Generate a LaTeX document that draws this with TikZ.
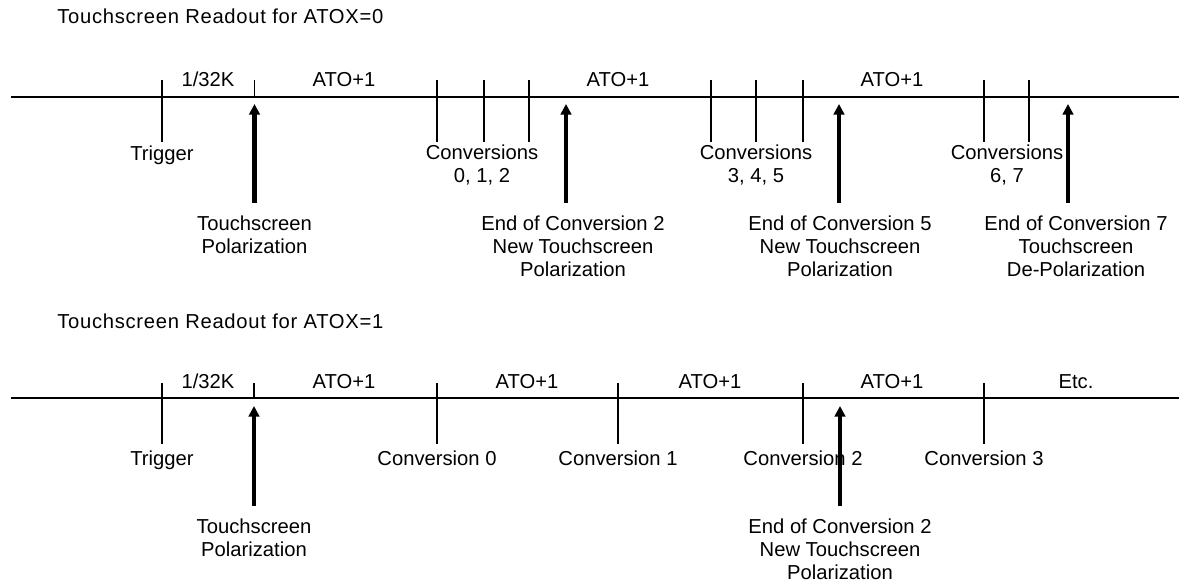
\documentclass[tikz,border=0pt]{standalone}
\usepackage{fontspec}
\setmainfont{Liberation Sans}
\newfontfamily\titlefont[LetterSpace=3.5]{Liberation Sans}
\usetikzlibrary{arrows.meta}

\begin{document}
\begin{tikzpicture}[axisline/.style={line width=1.3pt},
        tickline/.style={line width=1pt},
        polarrow/.style={line width=2pt,-{Triangle[length=0.21cm,width=0.21cm]},shorten <=0.26cm},
        lbl/.style={font=\fontsize{11.5}{13}\selectfont,inner sep=0pt,anchor=base},
        note/.style={font=\fontsize{11.5}{13}\selectfont,inner sep=0pt,anchor=north,align=center},
        heading/.style={font=\titlefont\fontsize{11.5}{13}\selectfont,inner sep=0pt,anchor=base west}]
        \useasboundingbox (0,0) rectangle (23.58,-11.66);

        % ATOX=0
        \node[heading] (title0) at (1.14,-0.48) {Touchscreen Readout for ATOX=0};
        \coordinate (s0) at (0.22,-1.94);
        \coordinate (e0) at (23.58,-1.94);
        \draw[axisline] (s0) -- (e0);

        \draw[tickline, line width=1.4pt] (3.24,-1.60) -- (3.24,-2.84);
        \draw[tickline] (5.09,-1.60) -- (5.09,-1.94);
        \draw[tickline] (8.74,-1.60) -- (8.74,-2.84);
        \draw[tickline] (9.68,-1.60) -- (9.68,-2.84);
        \draw[tickline] (10.58,-1.60) -- (10.58,-2.84);
        \draw[tickline] (14.22,-1.60) -- (14.22,-2.84);
        \draw[tickline] (15.12,-1.60) -- (15.12,-2.84);
        \draw[tickline] (16.06,-1.60) -- (16.06,-2.84);
        \draw[tickline] (19.68,-1.60) -- (19.68,-2.84);
        \draw[tickline] (20.58,-1.60) -- (20.58,-2.84);

        \node[lbl] (k0) at (4.16,-1.72) {1/32K};
        \node[lbl] (ato01) at (6.88,-1.72) {ATO+1};
        \node[lbl] (ato02) at (12.36,-1.72) {ATO+1};
        \node[lbl] (ato03) at (17.84,-1.72) {ATO+1};

        \node[lbl] (trig0) at (3.24,-3.20) {Trigger};
        \node[note] (conv012) at (9.64,-2.90) {Conversions\\0, 1, 2};
        \node[note] (conv345) at (15.12,-2.90) {Conversions\\3, 4, 5};
        \node[note] (conv67) at (20.14,-2.90) {Conversions\\6, 7};

        \node[note] (pol01) at (5.09,-4.31) {Touchscreen\\Polarization};
        \node[note] (pol02) at (11.46,-4.31) {End of Conversion 2\\New Touchscreen\\Polarization};
        \node[note] (pol05) at (16.80,-4.31) {End of Conversion 5\\New Touchscreen\\Polarization};
        \node[note] (pol07) at (21.52,-4.31) {End of Conversion 7\\Touchscreen\\De-Polarization};

        \coordinate (a01) at (5.09,-2.08);
        \coordinate (a02) at (11.32,-2.08);
        \coordinate (a05) at (16.78,-2.08);
        \coordinate (a07) at (21.36,-2.08);
        \draw[polarrow, line width=2.4pt] (a01 |- pol01.north) -- (a01);
        \draw[polarrow, line width=2.4pt] (a02 |- pol02.north) -- (a02);
        \draw[polarrow] (a05 |- pol05.north) -- (a05);
        \draw[polarrow] (a07 |- pol07.north) -- (a07);

        % ATOX=1
        \node[heading] (title1) at (1.14,-6.56) {Touchscreen Readout for ATOX=1};
        \coordinate (s1) at (0.22,-7.96);
        \coordinate (e1) at (23.58,-7.96);
        \draw[axisline] (s1) -- (e1);

        \draw[tickline, line width=1.4pt] (3.24,-7.66) -- (3.24,-8.88);
        \draw[tickline] (5.08,-7.66) -- (5.08,-7.96);
        \draw[tickline] (8.74,-7.66) -- (8.74,-8.88);
        \draw[tickline] (12.36,-7.66) -- (12.36,-8.88);
        \draw[tickline] (16.06,-7.66) -- (16.06,-8.88);
        \draw[tickline] (19.68,-7.66) -- (19.68,-8.88);

        \node[lbl] (k1) at (4.16,-7.76) {1/32K};
        \node[lbl] (ato11) at (6.88,-7.76) {ATO+1};
        \node[lbl] (ato12) at (10.54,-7.76) {ATO+1};
        \node[lbl] (ato13) at (14.20,-7.76) {ATO+1};
        \node[lbl] (ato14) at (17.84,-7.76) {ATO+1};
        \node[lbl] (etc1) at (21.52,-7.76) {Etc.};

        \node[lbl] (trig1) at (3.24,-9.30) {Trigger};
        \node[lbl] (conv0) at (8.74,-9.30) {Conversion 0};
        \node[lbl] (conv1) at (12.36,-9.30) {Conversion 1};
        \node[lbl] (conv2) at (16.06,-9.30) {Conversion 2};
        \node[lbl] (conv3) at (19.68,-9.30) {Conversion 3};

        \node[note] (pol11) at (5.08,-10.37) {Touchscreen\\Polarization};
        \node[note] (pol12) at (16.80,-10.37) {End of Conversion 2\\New Touchscreen\\Polarization};

        \coordinate (a11) at (5.08,-8.12);
        \coordinate (a12) at (16.80,-8.12);
        \draw[polarrow, line width=2.4pt] (a11 |- pol11.north) -- (a11);
        \draw[polarrow] (a12 |- pol12.north) -- (a12);
    \end{tikzpicture}
\end{document}
